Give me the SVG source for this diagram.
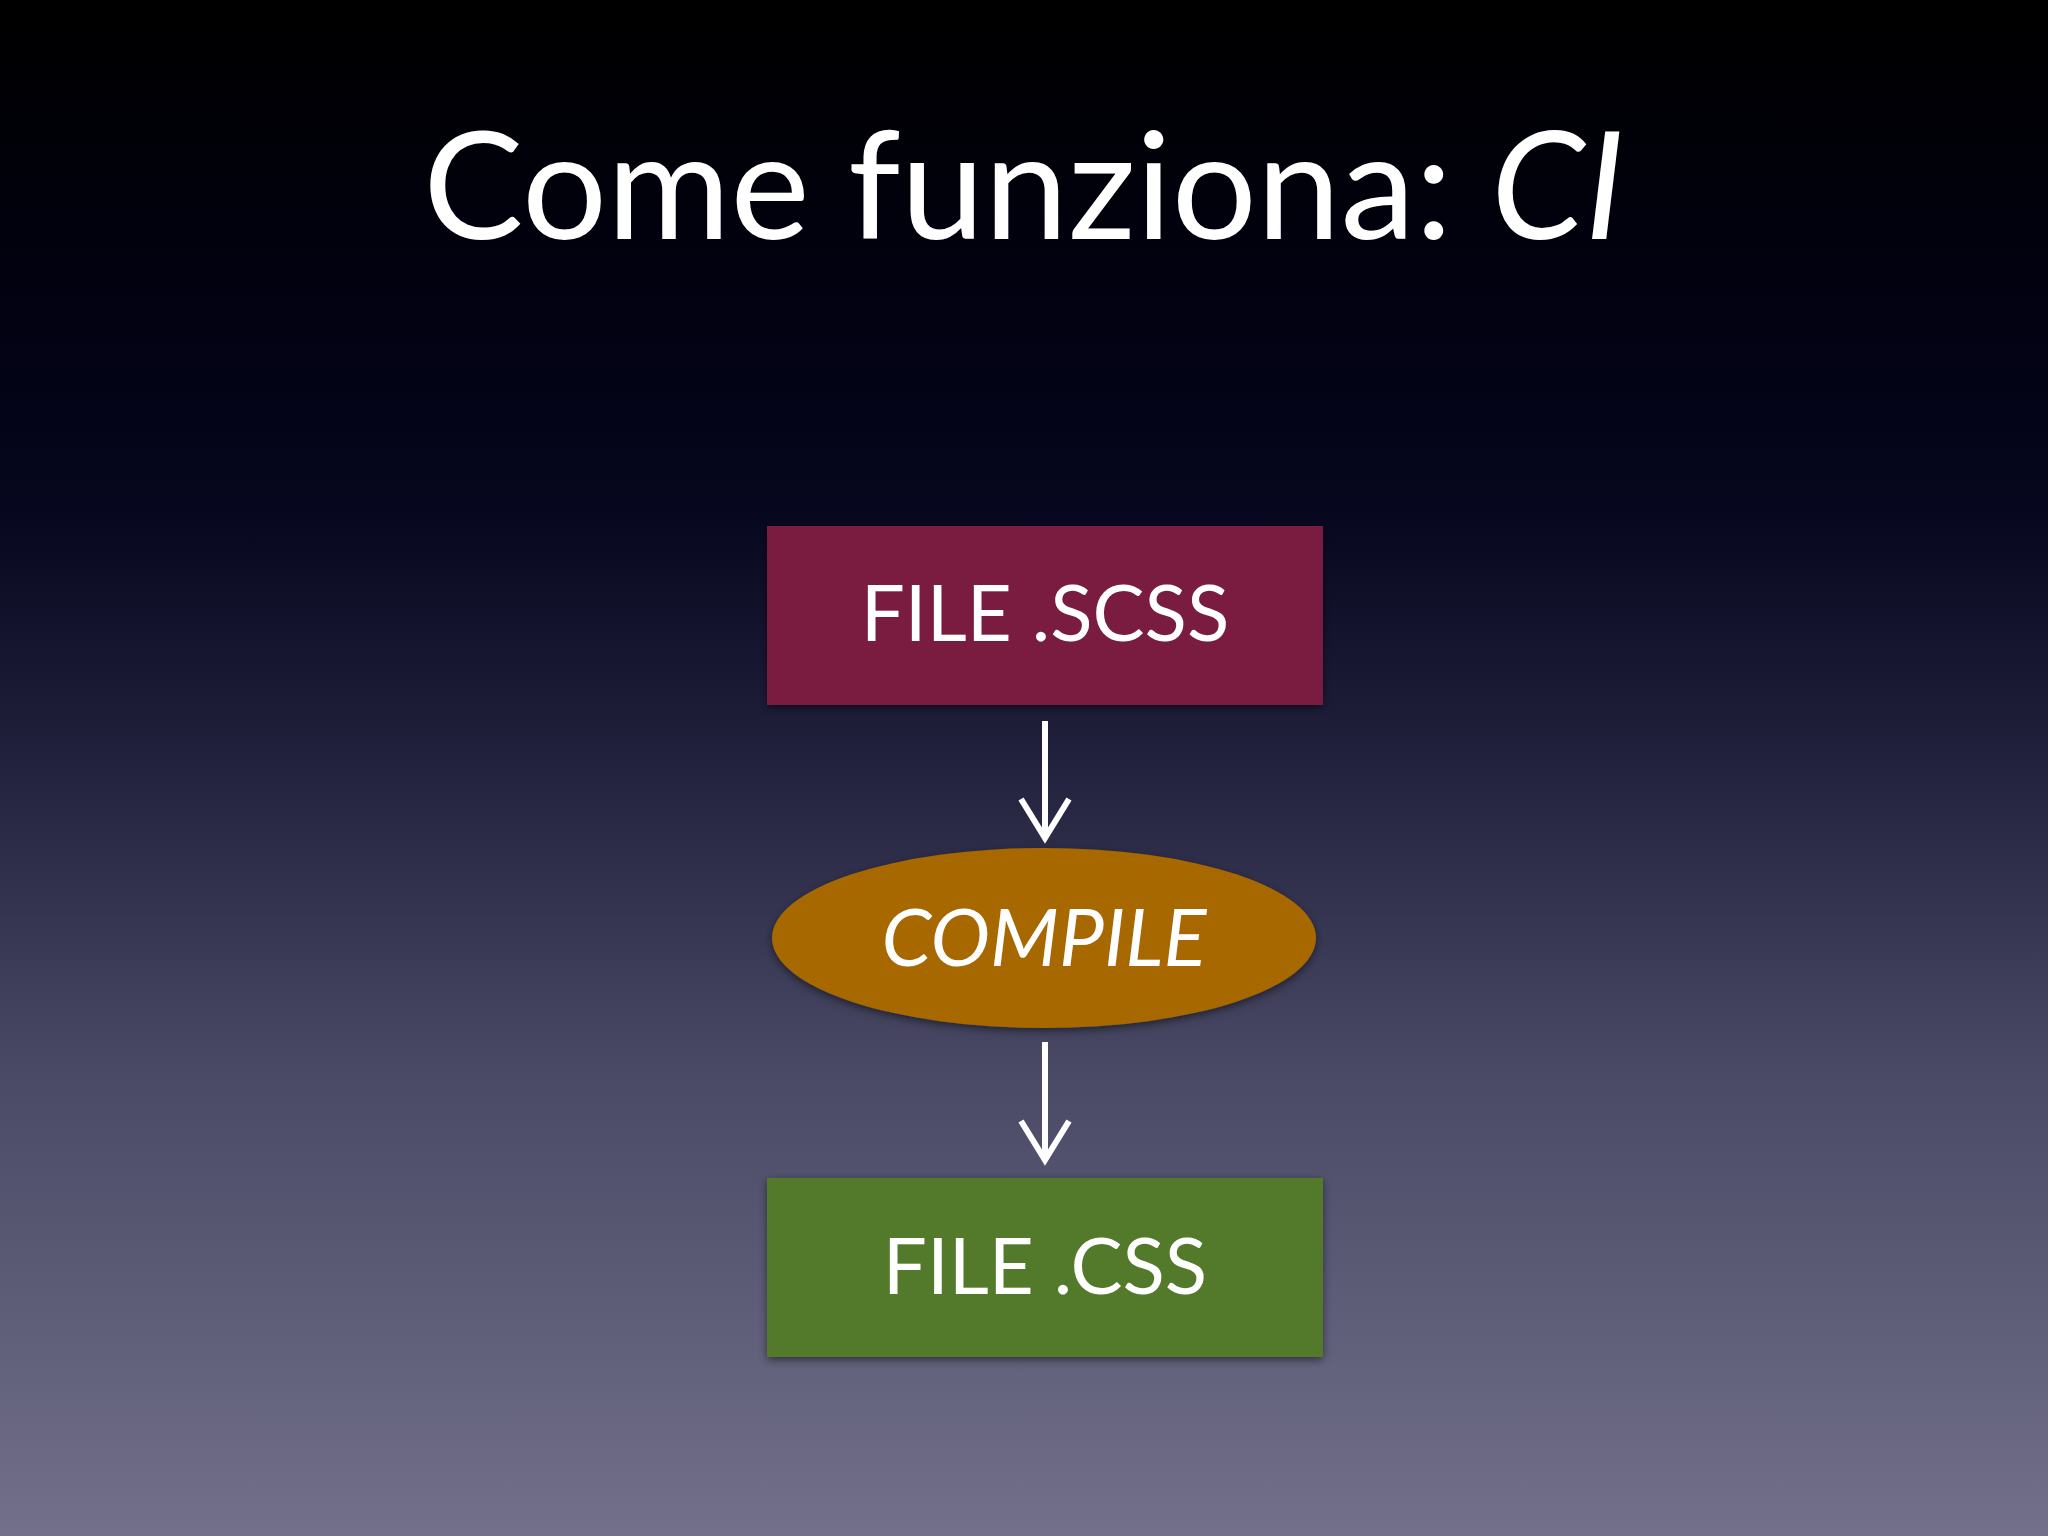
<svg xmlns="http://www.w3.org/2000/svg" width="2048" height="1536" viewBox="0 0 2048 1536">
<defs>
<linearGradient id="bg" x1="0" y1="0" x2="0" y2="1">
<stop offset="0" stop-color="#000000"/>
<stop offset="0.18" stop-color="#010110"/>
<stop offset="0.33" stop-color="#06061e"/>
<stop offset="0.5" stop-color="#22223e"/>
<stop offset="0.7" stop-color="#4a4a66"/>
<stop offset="1" stop-color="#72708a"/>
</linearGradient>
<filter id="sh" x="-10%" y="-10%" width="120%" height="130%"><feDropShadow dx="0" dy="3" stdDeviation="4" flood-color="#000" flood-opacity="0.5"/></filter>
</defs>
<style>
.t{font-family:Lato,"Open Sans",sans-serif;fill:#fff;text-anchor:middle}
.c{stroke:#fff;stroke-width:6;fill:none}
</style>
<rect width="2048" height="1536" fill="url(#bg)"/>
<text class="t" x="1024" y="239" font-size="150">Come funziona: <tspan font-style="italic">CI</tspan></text>
<g id="scss"><rect x="767" y="526" width="556" height="179" fill="#7a1a40" filter="url(#sh)"/><text class="t" x="1045" y="641" font-size="78">FILE .SCSS</text></g>
<g id="compile"><ellipse cx="1044" cy="938" rx="272" ry="90" fill="#a86800" filter="url(#sh)"/><text class="t" x="1044" y="966" font-size="80" font-style="italic">COMPILE</text></g>
<g id="css"><rect x="767" y="1178" width="556" height="179" fill="#527a2a" filter="url(#sh)"/><text class="t" x="1045" y="1294" font-size="78">FILE .CSS</text></g>
<g id="connectors">
<path class="c" d="M1045 721V836M1021 799L1045 838L1069 799"/>
<path class="c" d="M1045 1042V1158M1021 1121L1045 1160L1069 1121"/>
</g>
</svg>
